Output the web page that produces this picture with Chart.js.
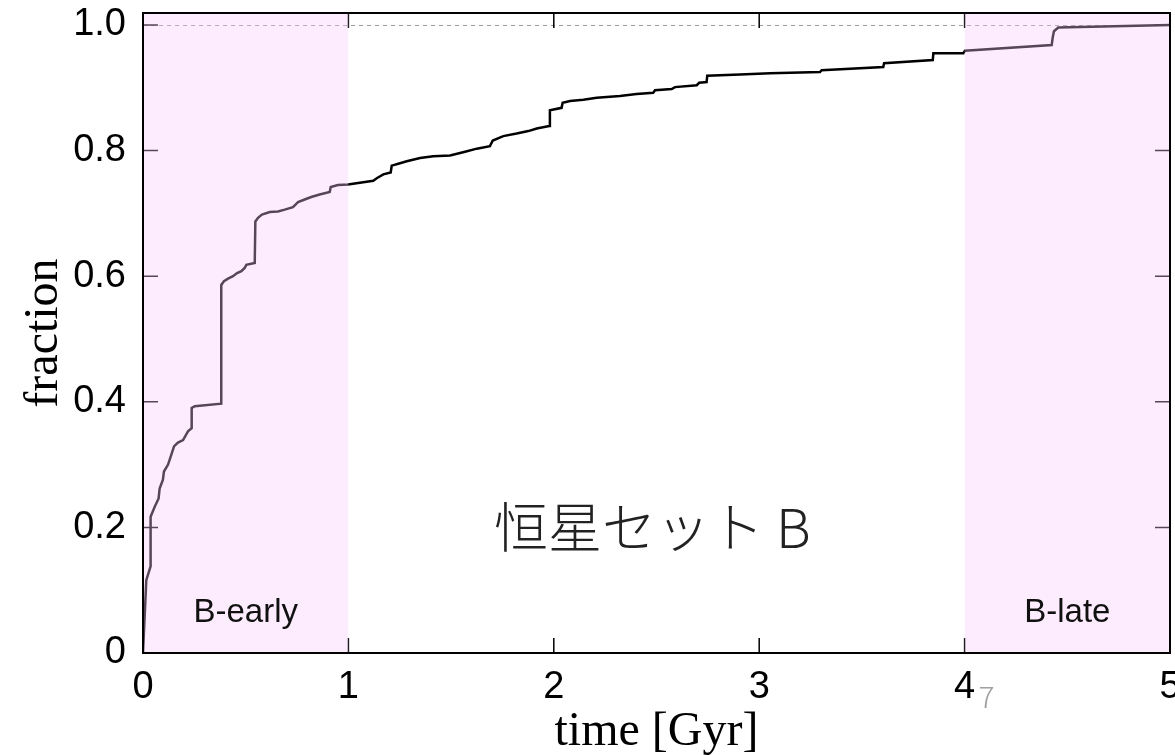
<!DOCTYPE html>
<html>
<head>
<meta charset="utf-8">
<script src="https://cdn.jsdelivr.net/npm/chart.js@4.4.0/dist/chart.umd.min.js"></script>
<style>
  html, body { margin: 0; padding: 0; overflow: hidden; background: #fff; }
  #wrap { width: 1175px; height: 755px; overflow: hidden; }
  canvas { display: block; }
</style>
</head>
<body>
<div id="wrap"><canvas id="fractionChart" width="1200" height="755"></canvas></div>
<script>
// cumulative fraction of set B against time (Gyr)
const timeGyr = [
    0, 0.016, 0.037, 0.037, 0.057, 0.076, 0.081, 0.097, 0.102, 0.122,
    0.138, 0.151, 0.170, 0.195, 0.219, 0.237, 0.237, 0.252, 0.381, 0.381,
    0.394, 0.414, 0.438, 0.458, 0.479, 0.495, 0.503, 0.544, 0.547, 0.560,
    0.579, 0.617, 0.657, 0.690, 0.730, 0.755, 0.787, 0.819, 0.860, 0.909,
    0.914, 0.949, 0.998, 1.121, 1.138, 1.170, 1.206, 1.211, 1.243, 1.284,
    1.349, 1.413, 1.495, 1.568, 1.625, 1.689, 1.703, 1.754, 1.819, 1.876,
    1.917, 1.978, 1.981, 2.038, 2.043, 2.079, 2.144, 2.209, 2.322, 2.403,
    2.484, 2.493, 2.574, 2.590, 2.696, 2.708, 2.744, 2.747, 2.907, 3.053,
    3.296, 3.304, 3.604, 3.608, 3.845, 3.848, 3.994, 4.002, 4.424, 4.429,
    4.435, 4.456, 5.0
];
const fraction = [
    0, 0.116, 0.138, 0.217, 0.233, 0.246, 0.262, 0.276, 0.289, 0.300,
    0.316, 0.329, 0.335, 0.339, 0.353, 0.358, 0.390, 0.393, 0.397, 0.586,
    0.592, 0.596, 0.600, 0.605, 0.608, 0.613, 0.618, 0.621, 0.687, 0.693,
    0.698, 0.702, 0.703, 0.706, 0.710, 0.718, 0.722, 0.726, 0.730, 0.734,
    0.742, 0.745, 0.746, 0.752, 0.756, 0.762, 0.765, 0.776, 0.779, 0.783,
    0.788, 0.791, 0.792, 0.798, 0.803, 0.807, 0.816, 0.823, 0.827, 0.831,
    0.835, 0.839, 0.864, 0.868, 0.876, 0.879, 0.881, 0.884, 0.887, 0.890,
    0.892, 0.896, 0.898, 0.901, 0.904, 0.908, 0.909, 0.919, 0.921, 0.923,
    0.925, 0.928, 0.933, 0.939, 0.944, 0.955, 0.955, 0.959, 0.968, 0.980,
    0.990, 0.996, 1.0
];

const xTickValues = [0, 1, 2, 3, 4, 5];
const yTickValues = [0, 0.2, 0.4, 0.6, 0.8, 1.0];

// shaded time windows
const bandStarts = [0, 4];
const bandEnds = [1, 5];
const bandLabels = ['B-early', 'B-late'];

const setTitle = '恒星セット B';
const slideNumber = '7';

const SANS = '"Liberation Sans", Arial, sans-serif';
const SERIF = '"Liberation Serif", "Times New Roman", serif';
const CJK = '"Noto Sans CJK JP", "Noto Sans CJK SC", sans-serif';

const framePlugin = {
    id: 'frame',
    beforeDatasetsDraw(chart) {
        const { ctx, chartArea: a, scales: { x, y } } = chart;
        ctx.save();

        // dashed guide at fraction = 1
        const y1 = Math.round(y.getPixelForValue(1)) + 0.5;
        ctx.strokeStyle = '#9a9a9a';
        ctx.lineWidth = 1;
        ctx.setLineDash([4, 4]);
        ctx.beginPath();
        ctx.moveTo(a.left, y1);
        ctx.lineTo(a.right, y1);
        ctx.stroke();
        ctx.setLineDash([]);

        // tick marks pointing inwards on all four sides
        const len = 15;
        ctx.strokeStyle = '#000';
        ctx.lineWidth = 1.5;
        ctx.beginPath();
        xTickValues.forEach(function (v) {
            const px = x.getPixelForValue(v);
            ctx.moveTo(px, a.bottom);
            ctx.lineTo(px, a.bottom - len);
            ctx.moveTo(px, a.top);
            ctx.lineTo(px, a.top + len);
        });
        yTickValues.forEach(function (v) {
            const py = y.getPixelForValue(v);
            ctx.moveTo(a.left, py);
            ctx.lineTo(a.left + len, py);
            ctx.moveTo(a.right, py);
            ctx.lineTo(a.right - len, py);
        });
        ctx.stroke();
        ctx.restore();
    },
    afterDatasetsDraw(chart) {
        const { ctx, chartArea: a, scales: { x, y } } = chart;
        ctx.save();

        // translucent pink windows laid over the curve
        ctx.fillStyle = 'rgba(249, 200, 249, 0.35)';
        bandStarts.forEach(function (s, i) {
            const x0 = x.getPixelForValue(s);
            const x1 = x.getPixelForValue(bandEnds[i]);
            ctx.fillRect(x0, a.top, x1 - x0, a.bottom - a.top);
        });

        // window labels
        ctx.fillStyle = '#111';
        ctx.font = '33px ' + SANS;
        ctx.textAlign = 'center';
        ctx.textBaseline = 'alphabetic';
        bandLabels.forEach(function (label, i) {
            const mid = (bandStarts[i] + bandEnds[i]) / 2;
            ctx.fillText(label, x.getPixelForValue(mid), y.getPixelForValue(0.05));
        });

        // set name in the middle of the panel
        ctx.fillStyle = '#222';
        ctx.font = '300 54px ' + CJK;
        ctx.textBaseline = 'middle';
        ctx.fillText(setTitle, x.getPixelForValue(2.48), y.getPixelForValue(0.2));

        // frame
        ctx.strokeStyle = '#000';
        ctx.lineWidth = 2;
        ctx.strokeRect(a.left, a.top, a.right - a.left, a.bottom - a.top);

        // page number next to the "4" tick label
        ctx.fillStyle = '#a0a0a0';
        ctx.font = '300 30px ' + CJK;
        ctx.textAlign = 'left';
        ctx.textBaseline = 'alphabetic';
        ctx.fillText(slideNumber, x.getPixelForValue(4) + 14, a.bottom + 55);

        ctx.restore();
    }
};

new Chart(document.getElementById('fractionChart'), {
    type: 'line',
    data: {
        datasets: [{
            data: timeGyr.map(function (t, i) { return { x: t, y: fraction[i] }; }),
            borderColor: '#000',
            borderWidth: 2.5,
            pointRadius: 0,
            tension: 0,
            fill: false
        }]
    },
    options: {
        responsive: false,
        animation: false,
        layout: { padding: { left: 0, top: 13, right: 30, bottom: 0 } },
        plugins: {
            legend: { display: false },
            tooltip: { enabled: false }
        },
        scales: {
            x: {
                type: 'linear',
                min: 0,
                max: 5,
                afterBuildTicks: function (scale) {
                    scale.ticks = xTickValues.map(function (v) { return { value: v }; });
                },
                afterFit: function (scale) {
                    scale.height = 102;
                    scale.paddingLeft = 0;
                    scale.paddingRight = 0;
                },
                grid: { display: false, drawTicks: false },
                border: { display: false },
                ticks: {
                    color: '#000',
                    font: { family: SANS, size: 38 },
                    padding: 12,
                    maxRotation: 0,
                    autoSkip: false
                },
                title: {
                    display: true,
                    text: 'time [Gyr]',
                    color: '#000',
                    font: { family: SERIF, size: 48, lineHeight: 1 },
                    padding: { top: 0, bottom: -1 }
                }
            },
            y: {
                type: 'linear',
                min: 0,
                max: 1.019,
                afterBuildTicks: function (scale) {
                    scale.ticks = yTickValues.map(function (v) { return { value: v }; });
                },
                afterFit: function (scale) {
                    scale.width = 143;
                    scale.paddingTop = 0;
                    scale.paddingBottom = 0;
                },
                grid: { display: false, drawTicks: false },
                border: { display: false },
                ticks: {
                    color: '#000',
                    font: { family: SANS, size: 38 },
                    padding: 17,
                    autoSkip: false,
                    callback: function (v) { return v === 0 ? '0' : v.toFixed(1); }
                },
                title: {
                    display: true,
                    text: 'fraction',
                    color: '#000',
                    font: { family: SERIF, size: 48, lineHeight: 1 },
                    padding: { top: 20, bottom: 0 }
                }
            }
        }
    },
    plugins: [framePlugin]
});
</script>
</body>
</html>
